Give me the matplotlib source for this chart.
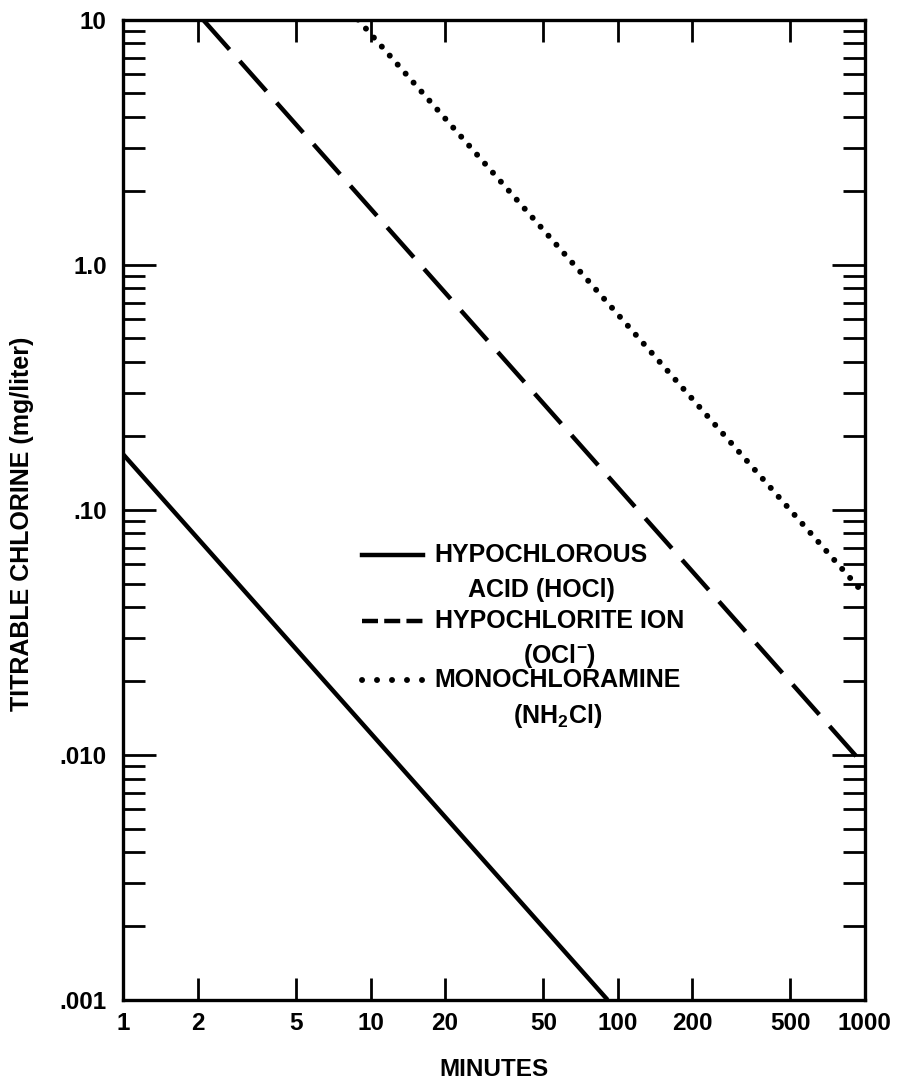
import matplotlib
matplotlib.use("Agg")
from matplotlib import pyplot as plt
from matplotlib.ticker import FixedLocator, FixedFormatter, NullFormatter

plt.rcParams['font.family'] = ['Liberation Sans', 'DejaVu Sans']

# curves (minutes, titrable chlorine mg/l)
min_hocl = [1, 91]
cl_hocl = [0.168, 0.001]
min_ocl = [2.1, 1000]
cl_ocl = [10, 0.009]
min_nh2cl = [8.9, 1000]
cl_nh2cl = [10, 0.045]

x_ticks = [1, 2, 5, 10, 20, 50, 100, 200, 500, 1000]
x_ticklabels = ['1', '2', '5', '10', '20', '50', '100', '200', '500', '1000']
y_ticks = [0.001, 0.01, 0.1, 1, 10]
y_ticklabels = ['.001', '.010', '.10', '1.0', '10']
y_minor = [m * d for d in [0.001, 0.01, 0.1, 1] for m in range(2, 10)]

legend_labels = ['HYPOCHLOROUS\nACID (HOCl)', 'HYPOCHLORITE ION\n(OCl$^{\\mathregular{-}}$)',
                 'MONOCHLORAMINE\n(NH$_{\\mathregular{2}}$Cl)']

fig = plt.figure(figsize=(9, 10.88), dpi=100)
ax = fig.add_axes([0.137, 0.081, 0.824, 0.901])

lw = 3.2
ax.plot(min_hocl, cl_hocl, color='black', lw=lw, solid_capstyle='butt')
ax.plot(min_ocl, cl_ocl, color='black', lw=lw, dashes=(9, 3.5))
ax.plot(min_nh2cl, cl_nh2cl, color='black', lw=4.3, dashes=(0.01, 2.0),
        dash_capstyle='round')

ax.set_xscale('log')
ax.set_yscale('log')
ax.set_xlim(1, 1000)
ax.set_ylim(0.001, 10)

ax.xaxis.set_major_locator(FixedLocator(x_ticks))
ax.xaxis.set_major_formatter(FixedFormatter(x_ticklabels))
ax.xaxis.set_minor_locator(FixedLocator([]))
ax.yaxis.set_major_locator(FixedLocator(y_ticks))
ax.yaxis.set_major_formatter(FixedFormatter(y_ticklabels))
ax.yaxis.set_minor_locator(FixedLocator(y_minor))
ax.yaxis.set_minor_formatter(NullFormatter())

for s in ax.spines.values():
    s.set_linewidth(2.4)

ax.tick_params(axis='x', which='major', direction='in', length=16, width=2,
               top=True, labelsize=17.5, pad=9)
ax.tick_params(axis='y', which='major', direction='in', length=24, width=2,
               right=True, labelsize=17.5, pad=12)
ax.tick_params(axis='y', which='minor', direction='in', length=16, width=2,
               right=True)
for t in ax.get_xticklabels() + ax.get_yticklabels():
    t.set_fontweight('bold')

ax.set_xlabel('MINUTES', fontsize=17.5, fontweight='bold', labelpad=16)
ax.set_ylabel('TITRABLE CHLORINE (mg/liter)', fontsize=18, fontweight='bold')
ax.yaxis.set_label_coords(-0.121, 0.486)

# legend drawn by hand to match the original layout
styles = [dict(lw=lw), dict(lw=lw, dashes=(3.6, 1.4)),
          dict(lw=4.3, dashes=(0.01, 2.5), dash_capstyle='round')]
rows_y = [0.454, 0.387, 0.326]
for lab, st, yy in zip(legend_labels, styles, rows_y):
    ax.plot([0.322, 0.404], [yy, yy], transform=ax.transAxes, color='black', **st)
    first, second = lab.split('\n')
    t = ax.text(0.42, yy, first, transform=ax.transAxes, fontsize=18,
                fontweight='bold', va='center', ha='left')
    fig.canvas.draw()
    bb = t.get_window_extent().transformed(ax.transAxes.inverted())
    ax.text((bb.x0 + bb.x1) / 2, yy - 0.036, second, transform=ax.transAxes,
            fontsize=18, fontweight='bold', va='center', ha='center')

fig.savefig('out.png', dpi=100)
